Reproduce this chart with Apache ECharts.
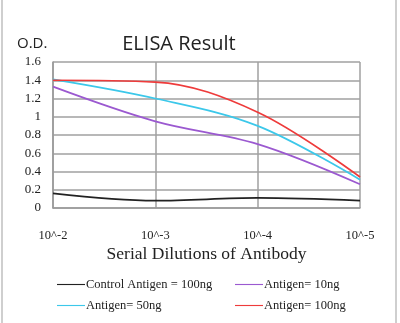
<!DOCTYPE html>
<html><head><meta charset="utf-8">
<script src="https://cdn.jsdelivr.net/npm/echarts@6/dist/echarts.min.js"></script>
<style>html,body{margin:0;padding:0;background:#fff}#c{width:400px;height:323px}</style>
</head><body><div id="c"></div>
<script>
var categories = ['10^-2', '10^-3', '10^-4', '10^-5'];
var seriesNames = ['Control Antigen = 100ng', 'Antigen= 10ng', 'Antigen= 50ng', 'Antigen= 100ng'];
var control100 = [0.16, 0.08, 0.11, 0.08];
var antigen10 = [1.33, 0.95, 0.70, 0.26];
var antigen50 = [1.41, 1.20, 0.90, 0.31];
var antigen100 = [1.40, 1.38, 1.05, 0.34];
var yTicks = [0, 0.2, 0.4, 0.6, 0.8, 1, 1.2, 1.4, 1.6];
var colors = ['#222222', '#9b59d0', '#3cc8ea', '#ee3b3b'];

var chart = echarts.init(document.getElementById('c'));
var serif = 'Liberation Serif';
function mk(name, data, color) {
  return { name: name, type: 'line', data: data, smooth: 0.35, symbol: 'none',
    lineStyle: { color: color, width: 1.7 }, itemStyle: { color: color } };
}
function lg(left, top, names) {
  return { show: true, left: left, top: top, orient: 'vertical', itemGap: 8, itemWidth: 28, itemHeight: 10,
    icon: 'path://M0,5L30,5L30,6.2L0,6.2Z',
    textStyle: { fontFamily: serif, fontSize: 12.5, color: '#222', padding: [0, 0, 0, -4] },
    data: names.map(function (n) { return { name: n, itemStyle: { color: colors[seriesNames.indexOf(n)] } }; }) };
}
chart.setOption({
  animation: false,
  backgroundColor: '#fff',
  graphic: [
    { type: 'line', shape: { x1: 2, y1: 0, x2: 2, y2: 323 }, style: { stroke: '#cfcfcf', lineWidth: 2 } },
    { type: 'line', shape: { x1: 396, y1: 0, x2: 396, y2: 323 }, style: { stroke: '#cfcfcf', lineWidth: 2 } },
    { type: 'text', left: 17, top: 36, style: { text: 'O.D.', font: '15px "Open Sans", "Liberation Sans", sans-serif', fill: '#222' } }
  ],
  title: { text: 'ELISA Result', left: 174, top: 29, textAlign: 'center',
    textStyle: { fontFamily: '"Open Sans", "Liberation Sans", sans-serif', fontSize: 20, fontWeight: 'normal', color: '#222' } },
  grid: { left: 53, right: 40, top: 62, bottom: 115 },
  xAxis: { type: 'category', data: categories, boundaryGap: false,
    name: 'Serial Dilutions of Antibody', nameLocation: 'middle', nameGap: 37,
    nameTextStyle: { fontFamily: serif, fontSize: 17.5, color: '#222' },
    axisLine: { show: true, lineStyle: { color: '#999', width: 1.5 } },
    axisTick: { show: false },
    axisLabel: { fontFamily: serif, fontSize: 12.5, color: '#222', margin: 21 },
    splitLine: { show: true, lineStyle: { color: '#a0a0a0', width: 1.5 } } },
  yAxis: { type: 'value', min: 0, max: 1.6, interval: 0.2,
    axisLine: { show: true, lineStyle: { color: '#999', width: 1.5 } },
    axisTick: { show: false },
    axisLabel: { fontFamily: serif, fontSize: 13, color: '#222', margin: 12,
      formatter: function (v) { var r = Math.round(v * 10) / 10; return yTicks.indexOf(r) >= 0 ? String(r) : ''; } },
    splitLine: { show: true, lineStyle: { color: '#a0a0a0', width: 1.5 } } },
  legend: [
    lg(52, 273, [seriesNames[0], seriesNames[2]]),
    lg(230, 273, [seriesNames[1], seriesNames[3]])
  ],
  series: [
    mk(seriesNames[0], control100, colors[0]),
    mk(seriesNames[1], antigen10, colors[1]),
    mk(seriesNames[2], antigen50, colors[2]),
    mk(seriesNames[3], antigen100, colors[3])
  ]
});
</script></body></html>
